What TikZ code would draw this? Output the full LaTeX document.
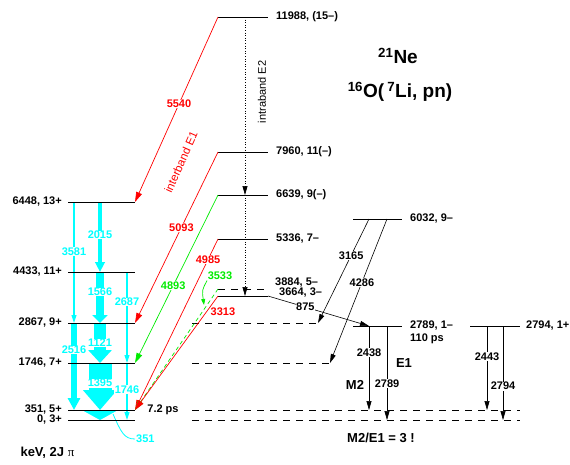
\documentclass[tikz,border=0pt]{standalone}
\usepackage{fontspec}
\setmainfont{Liberation Sans}
\usetikzlibrary{arrows.meta,calc}
\definecolor{lvcyan}{RGB}{0,255,255}
\definecolor{lvred}{RGB}{255,0,0}
\definecolor{lvgreen}{RGB}{0,235,0}
\tikzset{
  lvfont/.style={font=\fontsize{11}{13}\selectfont\bfseries},
  lvline/.style={line width=1pt},
  lvdash/.style={line width=0.9pt, dash pattern=on 7pt off 6pt},
  lvlabl/.style={lvfont, anchor=east, inner sep=0pt},
  lvlabr/.style={lvfont, anchor=west, inner sep=0pt},
  trblack/.style={-{Triangle[length=9pt,width=5pt]}, line width=0.6pt},
  trred/.style={-{Triangle[length=10pt,width=6pt]}, line width=0.7pt, draw=lvred},
  trgreen/.style={-{Triangle[length=10pt,width=6pt]}, line width=0.7pt, draw=lvgreen},
  trcyan/.style={-{Triangle[length=8pt,width=5pt]}, line width=1.1pt, draw=lvcyan},
  band/.style={draw=lvcyan},
  elab/.style={lvfont, fill=white, inner sep=0.5pt},
  redlab/.style={elab, text=lvred},
  greenlab/.style={elab, text=lvgreen},
  cyanlab/.style={elab, text=lvcyan},
  bigtxt/.style={font=\fontsize{13}{15}\selectfont\bfseries}
}
\begin{document}
\begin{tikzpicture}[x=1pt, y=-1pt]
  \useasboundingbox (0,0) rectangle (570,464);
  % level ends
  \foreach \e/\y in {6448/202,4433/272,2867/323,1746/363,351/410,0/420} {
    \coordinate (g\e a) at (68,\y);
    \coordinate (g\e b) at (135,\y);
  }
  \foreach \e/\y in {11988/17,7960/152,6639/195,5336/239,3884/289,3664/296} {
    \coordinate (m\e a) at (218,\y);
    \coordinate (m\e b) at (268,\y);
  }
  \coordinate (r6032a) at (353,219); \coordinate (r6032b) at (402,219);
  \coordinate (r2789a) at (353,326); \coordinate (r2789b) at (402,326);
  \coordinate (r2794a) at (470,326); \coordinate (r2794b) at (520,326);
  \foreach \e/\y/\xe in {2867/323/318,1746/363/330,351/410/520,0/420/520} {
    \coordinate (d\e a) at (192,\y);
    \coordinate (d\e b) at (\xe,\y);
  }
  % columns
  \coordinate (cA) at (74,0);
  \coordinate (cB) at (100,0);
  \coordinate (cC) at (127,0);
  \coordinate (cE) at (245,0);
  \coordinate (cF) at (369,0);
  \coordinate (cG) at (387,0);
  \coordinate (cH) at (487,0);
  \coordinate (cI) at (503,0);
  \coordinate (p351) at (113,414);

  % yrast band
  \draw[trcyan] (cA |- g6448a) -- node[cyanlab, pos=.41] (l3581) {3581} (cA |- g2867a);
  \draw[band, line width=5.5pt, -{Triangle[length=12pt,width=12pt]}] (cA |- g2867a) -- node[cyanlab, pos=.31] (l2516) {2516} (cA |- g351a);
  \draw[band, line width=3.5pt, -{Triangle[length=10pt,width=9.5pt]}] (cB |- g6448a) -- node[cyanlab, pos=.47] (l2015) {2015} (cB |- g4433a);
  \draw[band, line width=8pt, -{Triangle[length=8pt,width=15pt]}] (cB |- g4433a) -- node[cyanlab, pos=.39] (l1566) {1566} (cB |- g2867a);
  \draw[band, line width=12pt, -{Triangle[length=13pt,width=23pt]}] (cB |- g2867a) -- node[cyanlab, pos=.5] (l1121) {1121} (cB |- g1746a);
  \draw[band, line width=23pt, -{Triangle[length=20pt,width=33pt]}] (cB |- g1746a) -- node[cyanlab, pos=.43] (l1395) {1395} (cB |- g351a);
  \fill[lvcyan] ($(cB |- g351a)+(-18,0)$) -- ($(cB |- g351a)+(18,0)$) -- (cB |- g0a) -- cycle;
  \draw[trcyan] (cC |- g4433a) -- node[cyanlab, pos=.33] (l2687) {2687} (cC |- g1746a);
  \draw[trcyan] (cC |- g1746a) -- node[cyanlab, pos=.47] (l1746) {1746} (cC |- g0a);
  \node[lvfont, text=lvcyan, anchor=west, inner sep=1pt] (l351) at (135,439) {351};
  \draw[lvcyan, line width=0.8pt] (p351) .. controls (121,432) and (124,439) .. (l351.west);

  % levels
  \foreach \e/\t in {6448/{6448, 13+},4433/{4433, 11+},2867/{2867, 9+},1746/{1746, 7+},351/{351, 5+},0/{0, 3+}} {
    \draw[lvline] (g\e a) -- (g\e b);
    \node[lvlabl] (n\e) at ([xshift=-6pt]g\e a) {\t};
  }
  \foreach \e/\t in {11988/{11988, (15–)},7960/{7960, 11(–)},6639/{6639, 9(–)},5336/{5336, 7–}} {
    \draw[lvline] (m\e a) -- (m\e b);
    \node[lvlabr] (n\e) at ([xshift=8pt]m\e b) {\t};
  }
  \draw[lvdash] (m3884a) -- (m3884b);
  \draw[lvline] (m3664a) -- (m3664b);
  \node[lvlabr] (n3884) at (275,283) {3884, 5–};
  \node[lvlabr] (n3664) at (279,293) {3664, 3–};
  \draw[lvline] (r6032a) -- (r6032b);
  \draw[lvline] (r2789a) -- (r2789b);
  \draw[lvline] (r2794a) -- (r2794b);
  \node[lvlabr] (n6032) at ([xshift=8pt]r6032b) {6032, 9–};
  \node[lvlabr] (n2789) at ([xshift=8pt]r2789b) {2789, 1–};
  \node[lvlabr] (n110) at (410,339) {110 ps};
  \node[lvlabr] (n2794) at ([xshift=6pt]r2794b) {2794, 1+};
  \foreach \e in {2867,1746,351,0}
    \draw[lvdash] (d\e a) -- (d\e b);
  \node[lvfont] (n72) at (163,410) {7.2 ps};

  % interband E1
  \draw[trred] (m11988a) -- node[redlab, pos=.47] (l5540) {5540} (g6448b);
  \draw[trred] (m7960a) -- node[redlab, pos=.44] (l5093) {5093} (g2867b);
  \draw[trgreen] (m6639a) -- node[greenlab, pos=.54] (l4893) {4893} (g1746b);
  \draw[trred] (m5336a) -- node[redlab, pos=.12] (l4985) {4985} (g351b);
  \draw[trgreen, dash pattern=on 4pt off 3pt] (m3884a) -- (g351b);
  \draw[trred] (m3664a) -- node[lvfont, pos=.14, anchor=west, text=lvred, inner sep=1pt, xshift=3pt] (l3313) {3313} (g351b);
  \node[lvfont, text=lvgreen, inner sep=0.5pt] (l3533) at (220,276) {3533};
  \draw[lvgreen, line width=0.7pt, -{Triangle[length=6pt,width=4pt]}] (l3533.south west) .. controls (202,290) .. (204,305);
  \node[text=lvred, font=\fontsize{11.5}{13}\selectfont, rotate=66] (tE1) at (181,162) {interband E1};

  % intraband E2
  \draw[trblack, dotted] (cE |- m11988a) -- (cE |- m6639a);
  \draw[trblack, dotted] (cE |- m6639a) -- (cE |- m3664a);
  \node[font=\fontsize{11}{13}\selectfont, rotate=90] (tE2) at (262,92) {intraband E2};

  % negative parity side
  \draw[trblack] (m3664b) -- node[elab, pos=.37] (l875) {875} (cF |- r2789a);
  \draw[trblack] (cF |- r6032a) -- node[elab, pos=.35] (l3165) {3165} (d2867b);
  \draw[trblack] (cG |- r6032a) -- node[elab, pos=.44] (l4286) {4286} (d1746b);
  \draw[trblack] (cF |- r2789a) -- node[elab, pos=.32] (l2438) {2438} (cF |- d351a);
  \draw[trblack] (cG |- r2789a) -- node[elab, pos=.61] (l2789) {2789} (cG |- d0a);
  \draw[trblack] (cH |- r2794a) -- node[elab, pos=.36] (l2443) {2443} (cH |- d351a);
  \draw[trblack] (cI |- r2794a) -- node[elab, pos=.64] (l2794) {2794} (cI |- d0a);
  \node[bigtxt] (tE1b) at (404,363) {E1};
  \node[bigtxt] (tM2) at (355,385) {M2};
  \node[bigtxt] (tratio) at (381,438) {M2/E1 = 3 !};

  % title
  \node[font=\fontsize{19}{22}\selectfont\bfseries] (title) at (398,56) {\textsuperscript{21}Ne};
  \node[font=\fontsize{19}{22}\selectfont\bfseries] (reac) at (400,92) {\textsuperscript{16}O(\,\textsuperscript{7}Li, pn)};
  \node[anchor=west, font=\fontsize{13}{15}\selectfont\bfseries] (units) at (17,453) {keV, 2J {\mdseries\fontspec{Liberation Serif}π}};
\end{tikzpicture}
\end{document}
